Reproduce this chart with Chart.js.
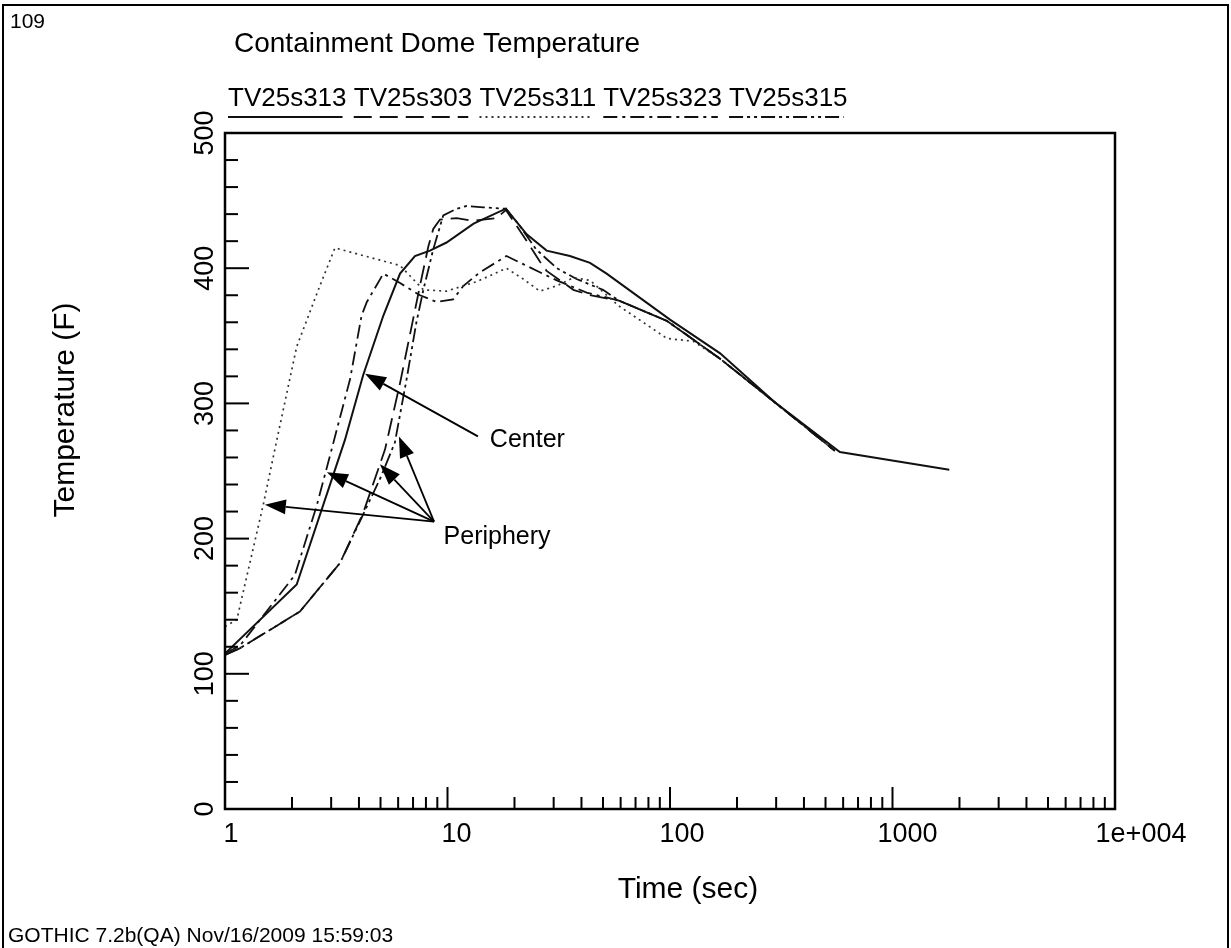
<!DOCTYPE html>
<html lang="en">
<head>
<meta charset="UTF-8">
<title>Containment Dome Temperature</title>
<script src="https://cdn.jsdelivr.net/npm/chart.js@4.4.1/dist/chart.umd.min.js"></script>
<style>
  html, body { margin: 0; padding: 0; background: #fff; }
  #wrap { width: 1231px; height: 948px; }
</style>
</head>
<body>
<div id="wrap"><canvas id="chart" width="1231" height="948"></canvas></div>
<script>
// legend order
var seriesNames = ['TV25s313', 'TV25s303', 'TV25s311', 'TV25s323', 'TV25s315'];

// TV25s313 - solid (center)
var time313 = [1, 2.1, 3.46, 4.18, 5.15, 6.12, 7.14, 8.34, 9.9, 13.1, 18.3, 22.7, 27.9, 35.5, 43.7, 51.9, 100, 168, 300, 580, 1800];
var temp313 = [115, 166, 273, 321, 365, 396, 409, 413, 419, 433, 444, 425, 413, 409, 404, 396, 362, 337, 300, 264, 251];

// TV25s303 - long dash
var time303 = [1, 1.17, 2.17, 3.29, 4.18, 4.97, 5.24, 6.12, 6.9, 7.52, 8.2, 8.63, 9.25, 11.0, 13.0, 16.6, 18.3, 21.9, 26.0, 27.9, 36.8, 43.7, 59, 97, 168, 300, 550];
var temp303 = [114, 119, 146, 182, 219, 255, 266, 315, 357, 387, 416, 429, 436, 437, 435, 437, 443, 424, 405, 398, 384, 380, 376, 361, 333, 300, 265];

// TV25s311 - dotted
var time311 = [1, 1.13, 1.49, 1.71, 2.1, 2.67, 3.12, 4.48, 6.12, 7.79, 9.9, 11.8, 13.5, 18.4, 21.9, 26.0, 31.0, 36.8, 43.7, 59, 84, 97, 127, 168, 300, 550];
var temp311 = [135, 140, 226, 273, 342, 387, 415, 408, 402, 384, 383, 387, 390, 400, 392, 383, 387, 393, 391, 372, 355, 348, 346, 333, 300, 265];

// TV25s323 - dash dot
var time323 = [1, 1.17, 2.06, 2.58, 2.96, 3.65, 4.11, 4.34, 5.15, 6.12, 7.52, 8.94, 10.6, 11.8, 14.0, 18.4, 21.9, 26.0, 31.0, 42.2, 59, 97, 168, 300, 550];
var temp323 = [115, 121, 173, 224, 261, 318, 365, 375, 396, 389, 380, 375, 377, 387, 397, 409, 403, 397, 391, 382, 376, 361, 333, 300, 265];

// TV25s315 - dash dot dot
var time315 = [1, 1.17, 2.17, 3.29, 4.18, 5.0, 5.8, 6.55, 7.25, 7.79, 8.63, 9.57, 11.0, 12.2, 14.5, 18.3, 21.2, 25.0, 31.0, 38.0, 50.0, 59, 97, 168, 300, 550];
var temp315 = [114, 119, 146, 182, 218, 245, 271, 318, 360, 384, 414, 439, 444, 446, 445, 444, 431, 414, 400, 392, 384, 376, 361, 333, 300, 265];

// axis ticks
var xTickValues = [1, 10, 100, 1000, 10000];
var xTickLabels = ['1', '10', '100', '1000', '1e+004'];
var yTickValues = [0, 100, 200, 300, 400, 500];

// annotation anchors (time, temperature)
var centerText = { t: 15.5, T: 273 };
var centerArrow = { from: [13.7, 275.6], to: [4.26, 322] };
var peripheryText = { t: 9.6, T: 201 };
var peripheryFrom = [8.7, 212.6];
var peripheryTips = [[1.51, 225], [2.87, 249], [4.97, 255], [6.05, 275.6]];

var FONT = '"Liberation Sans", Arial, sans-serif';

function pts(ts, vs) {
  var out = [];
  for (var i = 0; i < ts.length; i++) out.push({ x: ts[i], y: vs[i] });
  return out;
}

var styles = [
  { dash: [], width: 2, color: '#111' },
  { dash: [18, 8], width: 1.8, color: '#111' },
  { dash: [2, 4], width: 1.7, color: '#333' },
  { dash: [14, 5, 3, 5], width: 1.8, color: '#111' },
  { dash: [14, 4, 3, 4, 3, 4], width: 1.8, color: '#111' }
];
var series = [pts(time313, temp313), pts(time303, temp303), pts(time311, temp311), pts(time323, temp323), pts(time315, temp315)];

var datasets = [];
for (var i = 0; i < seriesNames.length; i++) {
  datasets.push({
    label: seriesNames[i],
    data: series[i],
    borderColor: styles[i].color,
    borderWidth: styles[i].width,
    borderDash: styles[i].dash,
    pointRadius: 0,
    fill: false,
    tension: 0
  });
}

function line(ctx, x1, y1, x2, y2) {
  ctx.beginPath(); ctx.moveTo(x1, y1); ctx.lineTo(x2, y2); ctx.stroke();
}

function arrow(ctx, x1, y1, x2, y2) {
  var ang = Math.atan2(y2 - y1, x2 - x1);
  var len = 21, hw = 7.5;
  var bx = x2 - len * Math.cos(ang), by = y2 - len * Math.sin(ang);
  ctx.lineWidth = 1.8;
  line(ctx, x1, y1, bx, by);
  ctx.beginPath();
  ctx.moveTo(x2, y2);
  ctx.lineTo(bx + hw * Math.sin(ang), by - hw * Math.cos(ang));
  ctx.lineTo(bx - hw * Math.sin(ang), by + hw * Math.cos(ang));
  ctx.closePath();
  ctx.fill();
}

var decor = {
  id: 'decor',
  afterDraw: function (chart) {
    var ctx = chart.ctx, a = chart.chartArea;
    var xs = chart.scales.x, ys = chart.scales.y;
    ctx.save();
    ctx.strokeStyle = '#000';
    ctx.fillStyle = '#000';

    // page frame
    ctx.lineWidth = 2;
    ctx.beginPath();
    ctx.moveTo(3, 948); ctx.lineTo(3, 5); ctx.lineTo(1228, 5); ctx.lineTo(1228, 948);
    ctx.stroke();

    // plot box
    ctx.lineWidth = 2.5;
    ctx.strokeRect(a.left, a.top, a.right - a.left, a.bottom - a.top);

    // inward ticks
    ctx.lineWidth = 2;
    for (var d = 1; d < 10000; d *= 10) {
      for (var m = 1; m < 10; m++) {
        var px = xs.getPixelForValue(d * m);
        line(ctx, px, a.bottom, px, a.bottom - (m === 1 ? 22 : 12));
      }
    }
    for (var v = 0; v <= 500; v += 20) {
      var py = ys.getPixelForValue(v);
      line(ctx, a.left, py, a.left + (v % 100 === 0 ? 24 : 13), py);
    }

    // x tick labels
    ctx.font = '27px ' + FONT;
    ctx.textAlign = 'center';
    ctx.textBaseline = 'top';
    for (var i = 0; i < xTickValues.length; i++) {
      var off = i === xTickValues.length - 1 ? 26 : 6 + i * 3;
      ctx.fillText(xTickLabels[i], xs.getPixelForValue(xTickValues[i]) + off, a.bottom + 12);
    }

    // y tick labels, rotated
    for (var j = 0; j < yTickValues.length; j++) {
      ctx.save();
      ctx.translate(a.left - 12, ys.getPixelForValue(yTickValues[j]));
      ctx.rotate(-Math.PI / 2);
      ctx.textAlign = 'center';
      ctx.textBaseline = 'alphabetic';
      ctx.fillText(String(yTickValues[j]), 0, 0);
      ctx.restore();
    }

    // axis titles
    ctx.font = '30px ' + FONT;
    ctx.textAlign = 'center';
    ctx.textBaseline = 'alphabetic';
    ctx.fillText('Time (sec)', 688, 898);
    ctx.save();
    ctx.translate(74, 410);
    ctx.rotate(-Math.PI / 2);
    ctx.fillText('Temperature (F)', 0, 0);
    ctx.restore();

    // title, page number, footer
    ctx.textAlign = 'left';
    ctx.font = '28px ' + FONT;
    ctx.fillText('Containment Dome Temperature', 234, 52);
    ctx.font = '21px ' + FONT;
    ctx.fillText('109', 10, 28);
    ctx.fillText('GOTHIC 7.2b(QA) Nov/16/2009 15:59:03', 8, 942);

    // legend: names with line samples underneath
    ctx.font = '26px ' + FONT;
    var lx = 228;
    var space = ctx.measureText(' ').width;
    for (var k = 0; k < seriesNames.length; k++) {
      var w = ctx.measureText(seriesNames[k]).width;
      ctx.fillText(seriesNames[k], lx, 106);
      ctx.save();
      ctx.strokeStyle = styles[k].color;
      ctx.lineWidth = 2;
      ctx.setLineDash(styles[k].dash);
      line(ctx, lx, 117, lx + w - 4, 117);
      ctx.restore();
      lx += w + space;
    }

    // annotations
    ctx.font = '25px ' + FONT;
    ctx.textBaseline = 'middle';
    ctx.fillText('Center', xs.getPixelForValue(centerText.t), ys.getPixelForValue(centerText.T));
    ctx.fillText('Periphery', xs.getPixelForValue(peripheryText.t), ys.getPixelForValue(peripheryText.T));
    arrow(ctx, xs.getPixelForValue(centerArrow.from[0]), ys.getPixelForValue(centerArrow.from[1]),
      xs.getPixelForValue(centerArrow.to[0]), ys.getPixelForValue(centerArrow.to[1]));
    var fx = xs.getPixelForValue(peripheryFrom[0]), fy = ys.getPixelForValue(peripheryFrom[1]);
    for (var p = 0; p < peripheryTips.length; p++) {
      arrow(ctx, fx, fy, xs.getPixelForValue(peripheryTips[p][0]), ys.getPixelForValue(peripheryTips[p][1]));
    }
    ctx.restore();
  }
};

var chart = new Chart(document.getElementById('chart').getContext('2d'), {
  type: 'line',
  data: { datasets: datasets },
  options: {
    responsive: false,
    animation: false,
    layout: { padding: { left: 225, right: 116, top: 133, bottom: 139 } },
    plugins: { legend: { display: false }, tooltip: { enabled: false }, title: { display: false } },
    scales: {
      x: { type: 'logarithmic', min: 1, max: 10000, display: false },
      y: { type: 'linear', min: 0, max: 500, display: false }
    }
  },
  plugins: [decor]
});
</script>
</body>
</html>
